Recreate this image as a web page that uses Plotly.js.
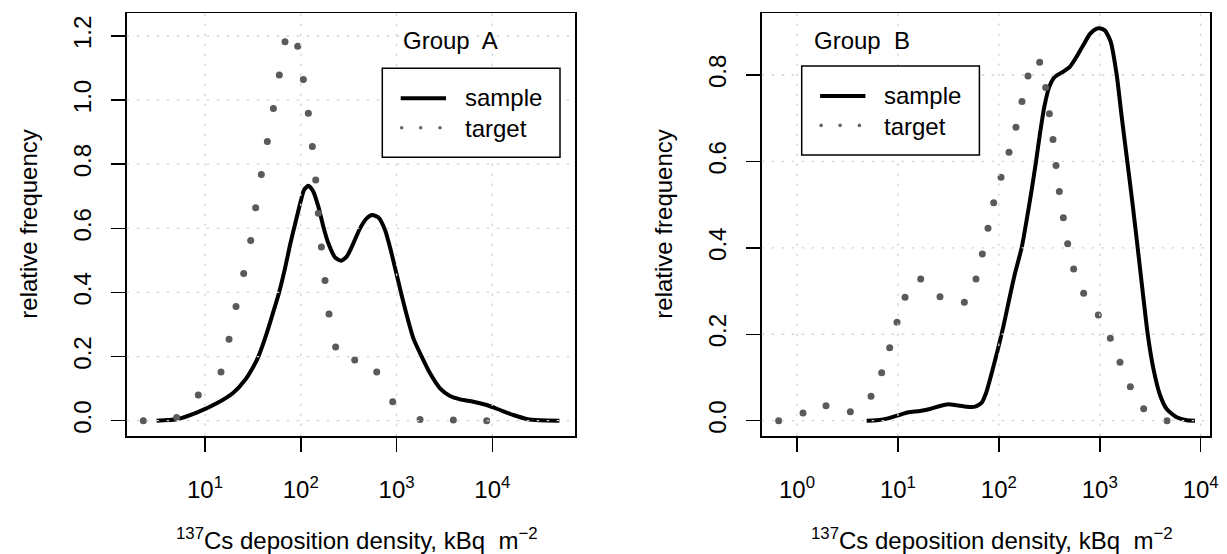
<!DOCTYPE html>
<html>
<head>
<meta charset="utf-8">
<script src="https://cdn.plot.ly/plotly-3.0.1.min.js"></script>
<style>html,body{margin:0;padding:0;background:#fff;}#chart{width:1227px;height:554px;}</style>
</head>
<body>
<div id="chart"></div>
<script>
// ---------------- DATA ----------------
// Group A
const groupA_sample_x = [3.13, 5.06, 8.18, 13.24, 19.77, 26.17, 31.97, 36.06, 44.05, 51.70, 59.27, 68.45, 77.19, 85.00, 98.97, 108.1, 119.9, 135.3, 152.6, 172.1, 194.1, 227.8, 263.1, 301.5, 353.9, 415.5, 487.7, 558.9, 645.5, 757.9, 868.5, 995.2, 1113, 1276, 1498, 1830, 2236, 2844, 3617, 4600, 6339, 8732, 12035, 16586, 22848, 31489, 50107];
const groupA_sample_y = [0, 0.0042, 0.0250, 0.0541, 0.0873, 0.1269, 0.1685, 0.1997, 0.2724, 0.3400, 0.3993, 0.4752, 0.5480, 0.6000, 0.6800, 0.7196, 0.7331, 0.7144, 0.6676, 0.6052, 0.5532, 0.5095, 0.4991, 0.5116, 0.5532, 0.6000, 0.6312, 0.6416, 0.6343, 0.5948, 0.5324, 0.4596, 0.3993, 0.3296, 0.2568, 0.1997, 0.1477, 0.1009, 0.0769, 0.0665, 0.0593, 0.0489, 0.0333, 0.0177, 0.0052, 0.0010, 0];
const groupA_target_x = [2.27, 5.06, 8.51, 14.69, 17.82, 21.09, 25.35, 29.99, 33.81, 38.73, 44.77, 51.76, 59.70, 68.39, 92.90, 106.4, 119.9, 132.1, 143.2, 152.4, 164.1, 179.1, 197.2, 231.2, 365.6, 620.9, 912.0, 1758, 3917, 8730];
const groupA_target_y = [0, 0.010, 0.080, 0.152, 0.254, 0.356, 0.459, 0.562, 0.664, 0.768, 0.871, 0.974, 1.078, 1.182, 1.168, 1.064, 0.959, 0.855, 0.751, 0.647, 0.542, 0.437, 0.333, 0.230, 0.189, 0.152, 0.059, 0.004, 0.002, 0];

// Group B
const groupB_sample_x = [4.90, 6.16, 7.74, 10.02, 12.68, 16.55, 20.79, 26.12, 31.60, 38.21, 48.01, 58.05, 67.61, 74.6, 84.9, 97.4, 110.8, 124.2, 144.6, 168.4, 188.7, 211.5, 233.5, 255.9, 282.4, 316.5, 360.3, 435.8, 507.4, 590.6, 687.7, 800.7, 932.2, 998.4, 1127, 1283, 1472, 1649, 1876, 2120, 2375, 2663, 2985, 3396, 3954, 4604, 5783, 7265, 8789];
const groupB_sample_y = [0, 0.0008, 0.0046, 0.0123, 0.0193, 0.0224, 0.0270, 0.0340, 0.0378, 0.0355, 0.0324, 0.0324, 0.0417, 0.0633, 0.1096, 0.1636, 0.2176, 0.2716, 0.3410, 0.4005, 0.4645, 0.5340, 0.5995, 0.6651, 0.7269, 0.7731, 0.7963, 0.8079, 0.8194, 0.8426, 0.8696, 0.8951, 0.9074, 0.9082, 0.9028, 0.8773, 0.8002, 0.7037, 0.5995, 0.4992, 0.4005, 0.2986, 0.2006, 0.1211, 0.0594, 0.0270, 0.0077, 0.0008, 0];
const groupB_target_x = [0.658, 1.147, 1.938, 3.377, 5.412, 6.902, 8.285, 9.793, 11.76, 16.81, 26.12, 45.52, 59.37, 68.63, 78.09, 88.88, 105.1, 126.1, 147.9, 169.6, 194.5, 253.9, 291.1, 316.5, 344.2, 368.6, 397.7, 435.6, 481.0, 551.4, 692.8, 968.3, 1273, 1587, 2010, 2724, 4639];
const groupB_target_y = [0, 0.0177, 0.0347, 0.0208, 0.0563, 0.1111, 0.1690, 0.2276, 0.2855, 0.3279, 0.2870, 0.2739, 0.3279, 0.3858, 0.4452, 0.5046, 0.5633, 0.6211, 0.6790, 0.7384, 0.7978, 0.8295, 0.7708, 0.7106, 0.6505, 0.5903, 0.5301, 0.4699, 0.4097, 0.3511, 0.2948, 0.2446, 0.1906, 0.1350, 0.0787, 0.0278, 0];

// Tick values / labels
const xTicksA = [10, 100, 1000, 10000];
const xTickTextA = ['10<sup>1</sup>', '10<sup>2</sup>', '10<sup>3</sup>', '10<sup>4</sup>'];
const xTicksB = [1, 10, 100, 1000, 10000];
const xTickTextB = ['10<sup>0</sup>', '10<sup>1</sup>', '10<sup>2</sup>', '10<sup>3</sup>', '10<sup>4</sup>'];
const yTicksA = [0, 0.2, 0.4, 0.6, 0.8, 1.0, 1.2];
const yTicksB = [0, 0.2, 0.4, 0.6, 0.8];
const seriesNames = ['sample', 'target'];
const panelTitles = ['Group\u00a0 A', 'Group\u00a0 B'];
const xTitle = '<sup>137</sup>Cs deposition density, kBq\u00a0 m<sup>\u22122</sup>';
const yTitle = 'relative frequency';

// ---------------- LAYOUT ----------------
const W = 1227, H = 554;
const px = v => v / W;
const py = v => 1 - v / H;
const FONT = 'Liberation Sans, Arial, Helvetica, sans-serif';
const DOT = '#5a5a5a';
const GRID = '#d3d3d3';

const boxA = {l: 126.7, r: 575, t: 13.3, b: 436};
const boxB = {l: 761.7, r: 1210, t: 13.3, b: 436};

const traces = [
  {x: groupA_sample_x, y: groupA_sample_y, xaxis: 'x', yaxis: 'y', mode: 'lines', name: seriesNames[0],
   line: {color: '#000', width: 4, shape: 'spline', smoothing: 0.6}, showlegend: false, hoverinfo: 'skip'},
  {x: groupA_target_x, y: groupA_target_y, xaxis: 'x', yaxis: 'y', mode: 'markers', name: seriesNames[1],
   marker: {color: DOT, size: 7}, showlegend: false, hoverinfo: 'skip'},
  {x: groupB_sample_x, y: groupB_sample_y, xaxis: 'x2', yaxis: 'y2', mode: 'lines', name: seriesNames[0],
   line: {color: '#000', width: 4, shape: 'spline', smoothing: 0.6}, showlegend: false, hoverinfo: 'skip'},
  {x: groupB_target_x, y: groupB_target_y, xaxis: 'x2', yaxis: 'y2', mode: 'markers', name: seriesNames[1],
   marker: {color: DOT, size: 7}, showlegend: false, hoverinfo: 'skip'}
];

function xAxis(dom, range, tv, tt, anchor) {
  return {type: 'log', domain: dom, range: range, anchor: anchor,
    showline: true, mirror: true, linecolor: '#000', linewidth: 1.5,
    ticks: 'outside', ticklen: 14, tickwidth: 1.5, tickcolor: '#000',
    tickmode: 'array', tickvals: tv, ticktext: tt, ticklabelstandoff: 18,
    tickfont: {family: FONT, size: 24, color: '#000'},
    showgrid: false, zeroline: false, automargin: false, fixedrange: true};
}
function yAxis(dom, range, tv, anchor) {
  return {domain: dom, range: range, anchor: anchor,
    showline: true, mirror: true, linecolor: '#000', linewidth: 1.5,
    ticks: 'outside', ticklen: 14, tickwidth: 1.5, tickcolor: '#000',
    tickmode: 'array', tickvals: tv, ticktext: tv.map(v => v.toFixed(1)), ticklabelstandoff: 11,
    tickangle: -90, tickfont: {family: FONT, size: 24, color: '#000'},
    showgrid: false, zeroline: false, automargin: false, fixedrange: true};
}

const shapes = [];
function grid(xref, yref, xt, yt) {
  xt.forEach(v => shapes.push({type: 'line', layer: 'above', xref: xref, yref: yref + ' domain', x0: v, x1: v, y0: 0, y1: 1,
    line: {color: GRID, width: 1.3, dash: '2.5px,7.5px'}}));
  yt.forEach(v => shapes.push({type: 'line', layer: 'above', xref: xref + ' domain', yref: yref, x0: 0, x1: 1, y0: v, y1: v,
    line: {color: GRID, width: 1.3, dash: '2.5px,7.5px'}}));
}
grid('x', 'y', xTicksA, yTicksA);
grid('x2', 'y2', xTicksB, yTicksB);

const annotations = [];
function legendBox(left, top) {
  shapes.push({type: 'rect', layer: 'above', xref: 'paper', yref: 'paper',
    x0: px(left), x1: px(left + 177.7), y0: py(top), y1: py(top + 89),
    fillcolor: '#fff', line: {color: '#000', width: 1.5}});
  shapes.push({type: 'line', layer: 'above', xref: 'paper', yref: 'paper',
    x0: px(left + 18.4), x1: px(left + 63.7), y0: py(top + 30), y1: py(top + 30),
    line: {color: '#000', width: 4}});
  [19.4, 38.4, 57.7].forEach(dx => {
    const cx = left + dx, cy = top + 59.4, r = 1.8;
    shapes.push({type: 'circle', layer: 'above', xref: 'paper', yref: 'paper',
      x0: px(cx - r), x1: px(cx + r), y0: py(cy - r), y1: py(cy + r),
      fillcolor: '#666', line: {width: 0}});
  });
  annotations.push({xref: 'paper', yref: 'paper', x: px(left + 80.5), y: py(top + 29.5), xanchor: 'left', yanchor: 'middle',
    text: seriesNames[0], showarrow: false, font: {family: FONT, size: 24, color: '#000'}});
  annotations.push({xref: 'paper', yref: 'paper', x: px(left + 80.5), y: py(top + 60), xanchor: 'left', yanchor: 'middle',
    text: seriesNames[1], showarrow: false, font: {family: FONT, size: 24, color: '#000'}});
}
legendBox(382.3, 68.3);
legendBox(801.7, 66);

annotations.push({xref: 'paper', yref: 'paper', x: px(400.5), y: py(40.3), xanchor: 'left', yanchor: 'middle',
  text: panelTitles[0], showarrow: false, font: {family: FONT, size: 24, color: '#000'}});
annotations.push({xref: 'paper', yref: 'paper', x: px(811.5), y: py(40.3), xanchor: 'left', yanchor: 'middle',
  text: panelTitles[1], showarrow: false, font: {family: FONT, size: 24, color: '#000'}});

[boxA, boxB].forEach(b => {
  annotations.push({xref: 'paper', yref: 'paper', x: px((b.l + b.r) / 2 + 6), y: py(539), xanchor: 'center', yanchor: 'middle',
    text: xTitle, showarrow: false, font: {family: FONT, size: 24, color: '#000'}});
  annotations.push({xref: 'paper', yref: 'paper', x: px(b.l - 97.7), y: py((b.t + b.b) / 2), xanchor: 'center', yanchor: 'middle',
    textangle: -90, text: yTitle, showarrow: false, font: {family: FONT, size: 24, color: '#000'}});
});

const layout = {
  width: W, height: H,
  margin: {l: 0, r: 0, t: 0, b: 0, pad: 0},
  paper_bgcolor: '#fff', plot_bgcolor: '#fff',
  showlegend: false,
  font: {family: FONT, size: 24, color: '#000'},
  xaxis: xAxis([px(boxA.l), px(boxA.r)], [0.1825, 4.863], xTicksA, xTickTextA, 'y'),
  yaxis: yAxis([py(boxA.b), py(boxA.t)], [-0.0478, 1.2708], yTicksA, 'x'),
  xaxis2: xAxis([px(boxB.l), px(boxB.r)], [-0.350, 4.0925], xTicksB, xTickTextB, 'y2'),
  yaxis2: yAxis([py(boxB.b), py(boxB.t)], [-0.0355, 0.9428], yTicksB, 'x2'),
  shapes: shapes,
  annotations: annotations
};

Plotly.newPlot('chart', traces, layout, {staticPlot: true, displayModeBar: false});
</script>
</body>
</html>
